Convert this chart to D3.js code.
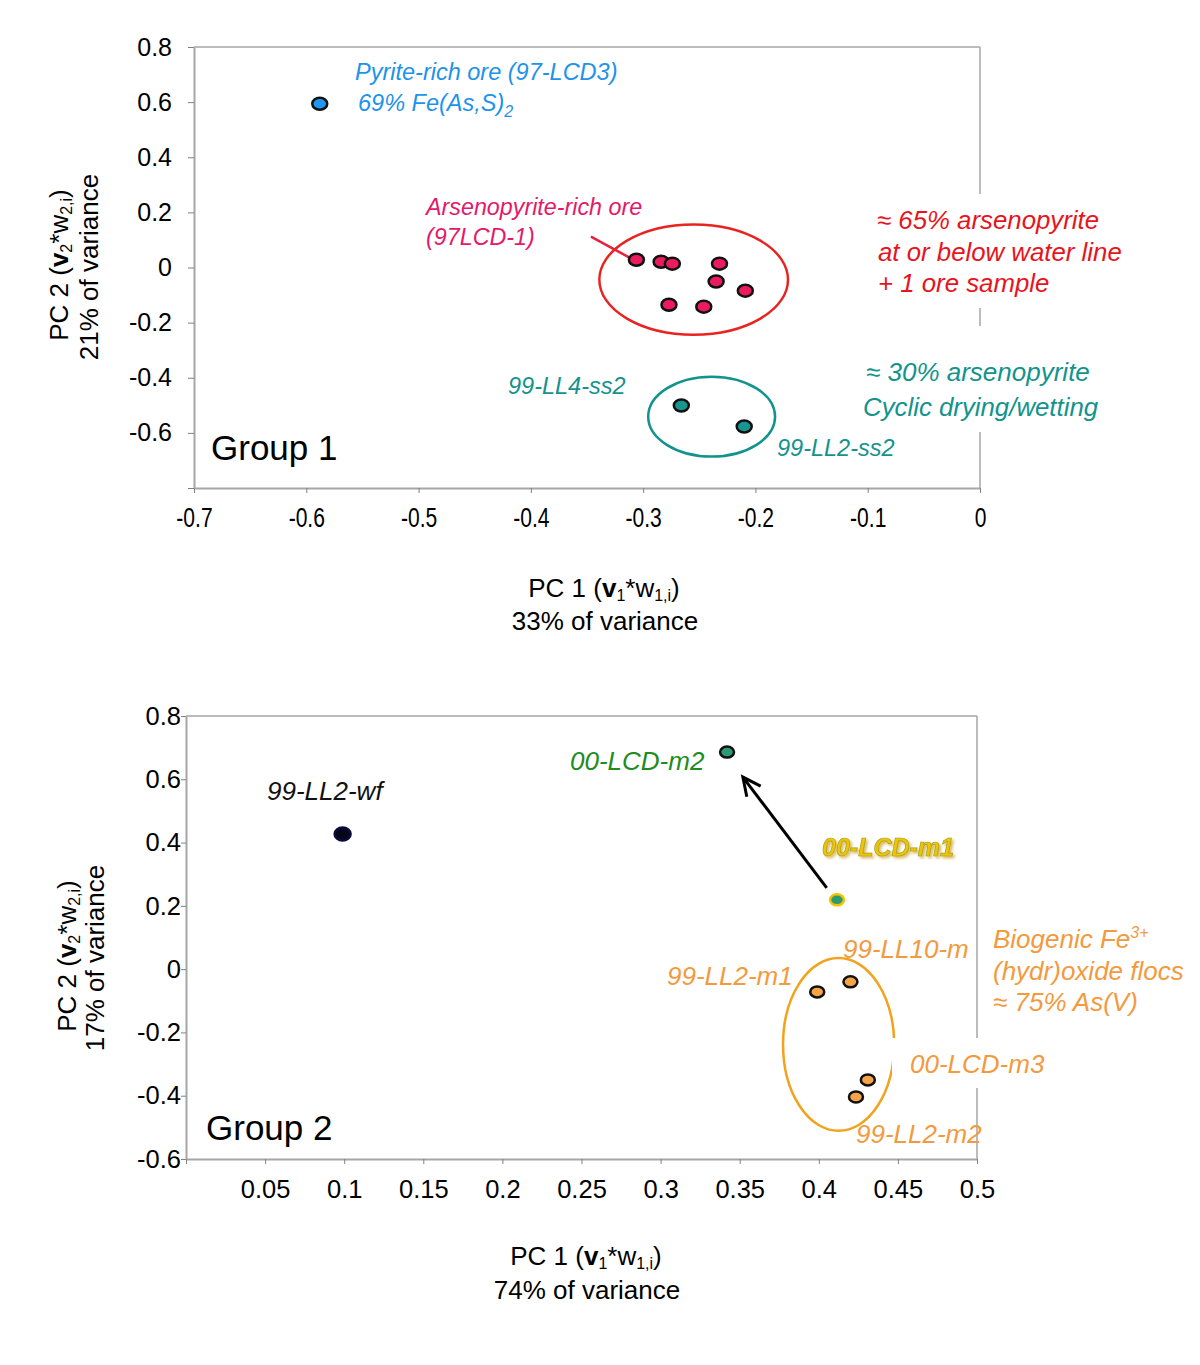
<!DOCTYPE html>
<html><head><meta charset="utf-8">
<script src="https://cdn.jsdelivr.net/npm/d3@7"></script>
<style>
html,body{margin:0;padding:0;background:#fff;}
text{font-family:"Liberation Sans",Arial,sans-serif;}
</style></head>
<body>
<svg id="chart" width="1200" height="1365"></svg>
<script>
// ---------- Data: Group 1 ----------
const g1XTicks = [-0.7,-0.6,-0.5,-0.4,-0.3,-0.2,-0.1,0];
const g1XTickLabels = ["-0.7","-0.6","-0.5","-0.4","-0.3","-0.2","-0.1","0"];
const g1YTicks = [0.8,0.6,0.4,0.2,0,-0.2,-0.4,-0.6,-0.8];
const g1YTickLabels = ["0.8","0.6","0.4","0.2","0","-0.2","-0.4","-0.6",""];
const pyritePC1 = [-0.588];
const pyritePC2 = [0.594];
const arsenoPC1 = [-0.306,-0.284,-0.274,-0.232,-0.235,-0.209,-0.277,-0.246];
const arsenoPC2 = [0.028,0.021,0.014,0.014,-0.051,-0.084,-0.135,-0.142];
const cyclicPC1 = [-0.266,-0.210];
const cyclicPC2 = [-0.501,-0.577];
const cyclicNames = ["99-LL4-ss2","99-LL2-ss2"];

// ---------- Data: Group 2 ----------
const g2XTicks = [0,0.05,0.1,0.15,0.2,0.25,0.3,0.35,0.4,0.45,0.5];
const g2XTickLabels = ["","0.05","0.1","0.15","0.2","0.25","0.3","0.35","0.4","0.45","0.5"];
const g2YTicks = [0.8,0.6,0.4,0.2,0,-0.2,-0.4,-0.6];
const g2YTickLabels = ["0.8","0.6","0.4","0.2","0","-0.2","-0.4","-0.6"];
const g2Names = ["99-LL2-wf","00-LCD-m2","00-LCD-m1","99-LL2-m1","99-LL10-m","00-LCD-m3","99-LL2-m2"];
const g2PC1 = [0.099,0.342,0.4115,0.399,0.420,0.431,0.4235];
const g2PC2 = [0.427,0.686,0.219,-0.072,-0.040,-0.350,-0.404];
const g2Kind = ["wf","m2","m1","floc","floc","floc","floc"];

const svg = d3.select("#chart");
const FONT = '"Liberation Sans",Arial,sans-serif';

const C = {
  axis:"#a6a6a6", tick:"#808080",
  blue:"#1e93ea", blueFill:"#2196f0",
  pink:"#e3196a", pinkFill:"#ec1a5e",
  red:"#e8141c", redEll:"#e82420",
  teal:"#13938d", tealFill:"#179690",
  green:"#1e8c1e", greenFill:"#2e9a70",
  orange:"#f39a3e", orangeFill:"#f6a447", orangeEll:"#f2a21c",
  yellow:"#f4c200"
};

function axisStyle(size, sx){
  return g => {
    g.select(".domain").attr("stroke",C.axis).attr("stroke-width",2);
    g.selectAll(".tick line").attr("stroke",C.tick).attr("stroke-width",1);
    const t = g.selectAll(".tick text").attr("fill","#000").attr("font-size",size).attr("font-family",FONT);
    if (sx) t.attr("transform",`scale(${sx},1)`);
  };
}

function pcTitle(t, n){
  t.append("tspan").text("PC "+n+" (");
  t.append("tspan").attr("font-weight","bold").text("v");
  t.append("tspan").attr("font-size",16).attr("dy",4).text(n);
  t.append("tspan").attr("dy",-4).text("*w");
  t.append("tspan").attr("font-size",16).attr("dy",4).text(n+",i");
  t.append("tspan").attr("dy",-4).text(")");
}
function itext(g,x,y,col,str,size){ return g.append("text").attr("x",x).attr("y",y).attr("fill",col).attr("font-style","italic").attr("font-size",size||24).text(str); }

// =============== GROUP 1 =================
const x1 = d3.scaleLinear().domain([-0.7,0]).range([194,980]);
const y1 = d3.scaleLinear().domain([-0.8,0.8]).range([488,47]);
const p1 = svg.append("g");

p1.append("line").attr("x1",x1(-0.7)).attr("x2",x1(0)).attr("y1",y1(0.8)).attr("y2",y1(0.8)).attr("stroke",C.axis).attr("stroke-width",1.5);
p1.append("line").attr("x1",x1(0)).attr("x2",x1(0)).attr("y1",y1(0.8)).attr("y2",y1(-0.8)).attr("stroke",C.axis).attr("stroke-width",1.5);

p1.append("g").attr("transform",`translate(0,${y1(-0.8)})`)
  .call(d3.axisBottom(x1).tickValues(g1XTicks).tickFormat((d,i)=>g1XTickLabels[i]).tickSize(5).tickSizeOuter(0).tickPadding(15))
  .call(axisStyle(27,0.78));
p1.append("g").attr("transform",`translate(${x1(-0.7)},0)`)
  .call(d3.axisLeft(y1).tickValues(g1YTicks).tickFormat((d,i)=>g1YTickLabels[i]).tickSize(6).tickSizeOuter(0).tickPadding(16))
  .call(axisStyle(25));

p1.append("ellipse").attr("cx",x1(-0.255)).attr("cy",y1(-0.044))
  .attr("rx",x1(-0.255+0.084)-x1(-0.255)).attr("ry",y1(-0.044-0.2)-y1(-0.044))
  .attr("fill","none").attr("stroke",C.redEll).attr("stroke-width",2.5);
p1.append("ellipse").attr("cx",x1(-0.239)).attr("cy",y1(-0.541))
  .attr("rx",x1(-0.239+0.0565)-x1(-0.239)).attr("ry",y1(-0.541-0.145)-y1(-0.541))
  .attr("fill","none").attr("stroke",C.teal).attr("stroke-width",2.5);

p1.append("line").attr("x1",x1(-0.3465)).attr("y1",y1(0.112)).attr("x2",x1(-0.312)).attr("y2",y1(0.0355))
  .attr("stroke","#e8203c").attr("stroke-width",2.5);

p1.append("rect").attr("x",868).attr("y",194).attr("width",262).attr("height",114).attr("fill","#fff");
p1.append("rect").attr("x",856).attr("y",326).attr("width",250).attr("height",106).attr("fill","#fff");

itext(p1,355,80,C.blue,"Pyrite-rich ore (97-LCD3)",23.5);
{ const t=p1.append("text").attr("x",358).attr("y",111).attr("fill",C.blue).attr("font-style","italic").attr("font-size",23.5);
  t.append("tspan").text("69% Fe(As,S)"); t.append("tspan").attr("font-size",16).attr("dy",6).text("2"); }
itext(p1,426,215,C.pink,"Arsenopyrite-rich ore",23.3);
itext(p1,426,245,C.pink,"(97LCD-1)",23.3);
itext(p1,877,229,C.red,"\u2248 65% arsenopyrite",25.8);
itext(p1,878,261,C.red,"at or below water line",25.8);
itext(p1,878,292,C.red,"+ 1 ore sample",25.8);
itext(p1,866,381,C.teal,"\u2248  30% arsenopyrite",26);
itext(p1,863,416,C.teal,"Cyclic drying/wetting",25.8);
itext(p1,508,394,C.teal,cyclicNames[0],23.5);
itext(p1,777,456,C.teal,cyclicNames[1],23.5);
p1.append("text").attr("x",211).attr("y",460).attr("font-size",35).attr("fill","#000").text("Group 1");

function pts(g, xs, ys, px, py, fill, stroke, rx, ry){
  g.selectAll(null).data(d3.range(px.length)).join("ellipse")
    .attr("cx",i=>xs(px[i])).attr("cy",i=>ys(py[i])).attr("rx",rx).attr("ry",ry)
    .attr("fill",fill).attr("stroke",stroke).attr("stroke-width",2.5);
}
pts(p1,x1,y1,pyritePC1,pyritePC2,C.blueFill,"#111",7.5,6);
pts(p1,x1,y1,arsenoPC1,arsenoPC2,C.pinkFill,"#111",7.5,6);
pts(p1,x1,y1,cyclicPC1,cyclicPC2,C.tealFill,"#111",7.5,6);

{ const t=p1.append("text").attr("text-anchor","middle").attr("font-size",26).attr("transform","translate(68,265) rotate(-90)"); pcTitle(t,"2"); }
p1.append("text").attr("text-anchor","middle").attr("font-size",26).attr("transform","translate(98,267) rotate(-90)").text("21% of variance");
{ const t=p1.append("text").attr("text-anchor","middle").attr("font-size",26).attr("x",604).attr("y",597); pcTitle(t,"1"); }
p1.append("text").attr("text-anchor","middle").attr("font-size",26).attr("x",605).attr("y",630).text("33% of variance");

// =============== GROUP 2 =================
const x2 = d3.scaleLinear().domain([0,0.5]).range([186,977]);
const y2 = d3.scaleLinear().domain([-0.6,0.8]).range([1159,716]);
const p2 = svg.append("g");

p2.append("line").attr("x1",x2(0)).attr("x2",x2(0.5)).attr("y1",y2(0.8)).attr("y2",y2(0.8)).attr("stroke",C.axis).attr("stroke-width",1.5);
p2.append("line").attr("x1",x2(0.5)).attr("x2",x2(0.5)).attr("y1",y2(0.8)).attr("y2",y2(-0.6)).attr("stroke",C.axis).attr("stroke-width",1.5);

p2.append("g").attr("transform",`translate(0,${y2(-0.6)})`)
  .call(d3.axisBottom(x2).tickValues(g2XTicks).tickFormat((d,i)=>g2XTickLabels[i]).tickSize(5).tickSizeOuter(0).tickPadding(16))
  .call(axisStyle(25.5));
p2.append("g").attr("transform",`translate(${x2(0)},0)`)
  .call(d3.axisLeft(y2).tickValues(g2YTicks).tickFormat((d,i)=>g2YTickLabels[i]).tickSize(5).tickSizeOuter(0).tickPadding(0))
  .call(axisStyle(25.5));

p2.append("ellipse").attr("cx",x2(0.4125)).attr("cy",y2(-0.238))
  .attr("rx",x2(0.4125+0.0351)-x2(0.4125)).attr("ry",y2(-0.238-0.273)-y2(-0.238))
  .attr("fill","none").attr("stroke",C.orangeEll).attr("stroke-width",2.5);

p2.append("rect").attr("x",892).attr("y",1038).attr("width",165).attr("height",50).attr("fill","#fff");

{
  const ax1=x2(0.405), ay1=y2(0.257), ax2=x2(0.352), ay2=y2(0.607);
  p2.append("line").attr("x1",ax1).attr("y1",ay1).attr("x2",ax2).attr("y2",ay2).attr("stroke","#000").attr("stroke-width",3);
  const ang=Math.atan2(ay1-ay2, ax1-ax2), L=20, sp=0.45;
  const w1=[ax2+L*Math.cos(ang+sp), ay2+L*Math.sin(ang+sp)], w2=[ax2+L*Math.cos(ang-sp), ay2+L*Math.sin(ang-sp)];
  p2.append("path").attr("d",`M${w1[0]},${w1[1]}L${ax2},${ay2}L${w2[0]},${w2[1]}`).attr("fill","none").attr("stroke","#000").attr("stroke-width",3);
}

itext(p2,267,800,"#111",g2Names[0],26);
itext(p2,570,770,C.green,g2Names[1],26);
const defs=svg.append("defs");
const f=defs.append("filter").attr("id","glow").attr("x","-20%").attr("y","-40%").attr("width","140%").attr("height","180%");
f.append("feGaussianBlur").attr("in","SourceAlpha").attr("stdDeviation",1.5).attr("result","b");
f.append("feOffset").attr("in","b").attr("dx",1.5).attr("dy",1.5).attr("result","o");
f.append("feFlood").attr("flood-color","#d0a93a").attr("flood-opacity",0.85);
f.append("feComposite").attr("in2","o").attr("operator","in").attr("result","s");
const fm=f.append("feMerge"); fm.append("feMergeNode").attr("in","s"); fm.append("feMergeNode").attr("in","SourceGraphic");
p2.append("text").attr("x",822).attr("y",856).attr("font-size",25).attr("font-style","italic").attr("font-weight","bold")
  .attr("fill",C.yellow).attr("stroke","#9aa52a").attr("stroke-width",0.7).attr("filter","url(#glow)").text(g2Names[2]);
itext(p2,667,985,C.orange,g2Names[3],26);
itext(p2,843,958,C.orange,g2Names[4],26);
itext(p2,910,1073,C.orange,g2Names[5],26);
itext(p2,856,1143,C.orange,g2Names[6],26);
{ const t=p2.append("text").attr("x",993).attr("y",948).attr("fill",C.orange).attr("font-style","italic").attr("font-size",26);
  t.append("tspan").text("Biogenic Fe"); t.append("tspan").attr("font-size",16).attr("dy",-10).text("3+"); }
itext(p2,993,980,C.orange,"(hydr)oxide flocs",26);
itext(p2,993,1011,C.orange,"\u2248 75% As(V)",26);
p2.append("text").attr("x",206).attr("y",1140).attr("font-size",35).attr("fill","#000").text("Group 2");

const idx=d3.range(g2Names.length);
p2.selectAll(null).data(idx).join("ellipse")
  .attr("cx",i=>x2(g2PC1[i])).attr("cy",i=>y2(g2PC2[i]))
  .attr("rx",i=>g2Kind[i]==="wf"?8:7).attr("ry",i=>g2Kind[i]==="wf"?6.5:5.5)
  .attr("fill",i=>g2Kind[i]==="wf"?"#050518":g2Kind[i]==="floc"?C.orangeFill:C.greenFill)
  .attr("stroke",i=>g2Kind[i]==="wf"?"#0a0a40":g2Kind[i]==="m1"?C.yellow:"#111")
  .attr("stroke-width",2.5);

{ const t=p2.append("text").attr("text-anchor","middle").attr("font-size",26).attr("transform","translate(76,956) rotate(-90)"); pcTitle(t,"2"); }
p2.append("text").attr("text-anchor","middle").attr("font-size",26).attr("transform","translate(104,958) rotate(-90)").text("17% of variance");
{ const t=p2.append("text").attr("text-anchor","middle").attr("font-size",26).attr("x",586).attr("y",1265); pcTitle(t,"1"); }
p2.append("text").attr("text-anchor","middle").attr("font-size",26).attr("x",587).attr("y",1299).text("74% of variance");
</script>
</body></html>
